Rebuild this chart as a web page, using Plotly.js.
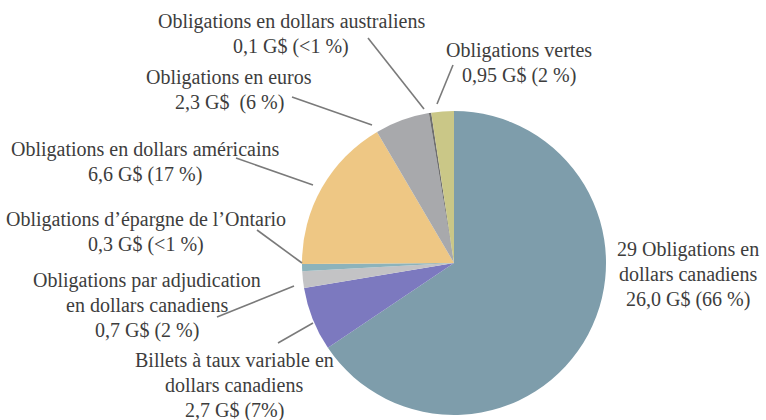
<!DOCTYPE html>
<html>
<head>
<meta charset="utf-8">
<script src="https://cdn.plot.ly/plotly-3.0.1.min.js"></script>
<style>html,body{margin:0;padding:0;background:#fff;}#chart{width:766px;height:420px;}</style>
</head>
<body>
<div id="chart"></div>
<script>
// ---- Data ----
const categories = [
  "Obligations en dollars canadiens",
  "Billets à taux variable en dollars canadiens",
  "Obligations par adjudication en dollars canadiens",
  "Obligations d’épargne de l’Ontario",
  "Obligations en dollars américains",
  "Obligations en euros",
  "Obligations en dollars australiens",
  "Obligations vertes"
];
const values = [26.0, 2.7, 0.7, 0.3, 6.6, 2.3, 0.1, 0.95];
const labelLines = [
  ["29 Obligations en", "dollars canadiens", "26,0 G$ (66 %)"],
  ["Billets à taux variable en", "dollars canadiens", "2,7 G$ (7%)"],
  ["Obligations par adjudication", "en dollars canadiens", "0,7 G$ (2 %)"],
  ["Obligations d’épargne de l’Ontario", "0,3 G$ (<1 %)"],
  ["Obligations en dollars américains", "6,6 G$ (17 %)"],
  ["Obligations en euros", "2,3 G$  (6 %)"],
  ["Obligations en dollars australiens", "0,1 G$ (<1 %)"],
  ["Obligations vertes", "0,95 G$ (2 %)"]
];

// ---- Styles & layout positions (pixels) ----
const colors = ["#7e9dab", "#7c79bf", "#c3c3c5", "#8cb3bb", "#eec784", "#a8a9ac", "#6f6f70", "#cac787"];
const W = 766, H = 420;
const px = x => x / W;
const py = y => 1 - y / H;
const labelPos = [ // [center x, middle y of first line]
  [688, 249], [234, 360], [147, 280], [146, 219],
  [145, 149], [229, 77], [291, 21], [519, 50]
];
const lineGap = 25;
const leaders = [ // [x0,y0,x1,y1] per slice, null = none
  null,
  [278, 343, 313, 323],
  [217, 317, 294, 286],
  [257, 230, 302, 263],
  [236, 158, 313, 185],
  [292, 97, 372, 125],
  [368, 38, 424, 109],
  [453, 65, 437, 104]
];
const fontFamily = "'Liberation Serif', 'Times New Roman', Times, serif";

const annotations = [];
labelLines.forEach((lines, i) => {
  lines.forEach((t, j) => {
    annotations.push({
      xref: 'paper', yref: 'paper',
      x: px(labelPos[i][0]), y: py(labelPos[i][1] + j * lineGap),
      xanchor: 'center', yanchor: 'middle',
      text: t.replace(/</g, '&lt;'), showarrow: false,
      font: {family: fontFamily, size: 20, color: '#3d3d3d'}
    });
  });
});
const shapes = leaders.filter(l => l).map(l => ({
  type: 'line', xref: 'paper', yref: 'paper',
  x0: px(l[0]), y0: py(l[1]), x1: px(l[2]), y1: py(l[3]),
  line: {color: '#7a7a7a', width: 1.6}
}));

const cx = 454, cy = 263, r = 152;
const trace = {
  type: 'pie',
  labels: categories,
  values: values,
  sort: false,
  direction: 'clockwise',
  rotation: 0,
  textinfo: 'none',
  hoverinfo: 'label+value',
  marker: {colors: colors, line: {width: 0}},
  showlegend: false,
  domain: {x: [px(cx - r), px(cx + r)], y: [py(cy + r), py(cy - r)]}
};

Plotly.newPlot('chart', [trace], {
  width: W, height: H,
  margin: {l: 0, r: 0, t: 0, b: 0},
  paper_bgcolor: '#ffffff',
  showlegend: false,
  font: {family: fontFamily},
  annotations: annotations,
  shapes: shapes
}, {displayModeBar: false, staticPlot: true});
</script>
</body>
</html>
